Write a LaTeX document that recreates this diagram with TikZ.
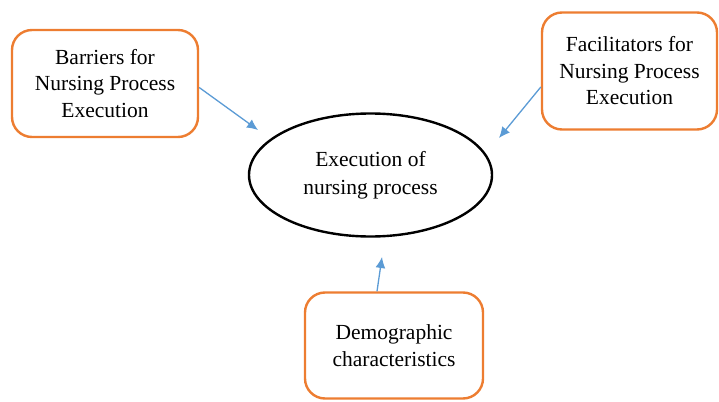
\documentclass[tikz,border=0pt]{standalone}
\usepackage{fontspec}
\setmainfont{Liberation Serif}
\usetikzlibrary{shapes.geometric,arrows.meta}
\definecolor{boxorange}{RGB}{237,125,49}
\definecolor{arrowblue}{RGB}{91,155,213}
\begin{document}
\begin{tikzpicture}[x=1pt,y=-1pt,
  factor/.style={draw=boxorange,line width=2.4pt,rounded corners=20pt,fill=white,
    align=center,inner sep=0pt,font=\fontsize{21.5}{26.5}\selectfont},
  central/.style={ellipse,draw=black,line width=2.4pt,inner sep=0pt,align=center,
    font=\fontsize{21.5}{28}\selectfont},
  link/.style={draw=arrowblue,line width=1.3pt,-{Latex[length=11pt,width=10pt]}}]
\useasboundingbox (0,0) rectangle (719,401);
\node[factor,minimum width=186pt,minimum height=107pt] (b1) at (105,83.5)
  {Barriers for\\Nursing Process\\Execution};
\node[factor,minimum width=175pt,minimum height=117pt] (b2) at (629.5,71)
  {Facilitators for\\Nursing Process\\Execution};
\node[factor,minimum width=178pt,minimum height=106pt] (b3) at (394,345.5)
  {Demographic\\characteristics};
\node[central,minimum width=243pt,minimum height=123pt] (c) at (370.5,175)
  {Execution of\\nursing process};
\coordinate (t1) at (258,130);
\coordinate (t2) at (499,138);
\coordinate (t3) at (382,257);
\draw[link] ([yshift=-4pt]b1.east) -- (t1);
\draw[link] ([yshift=-16pt]b2.west) -- (t2);
\draw[link] ([xshift=-17pt]b3.north) -- (t3);
\end{tikzpicture}
\end{document}
